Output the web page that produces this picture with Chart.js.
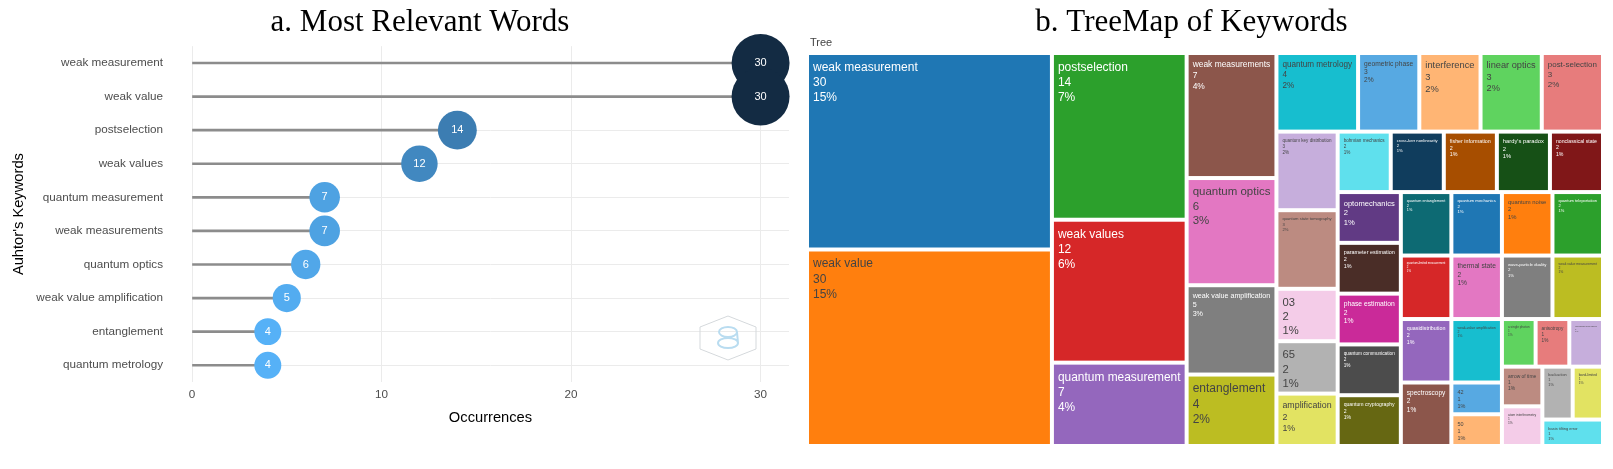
<!DOCTYPE html>
<html>
<head>
<meta charset="utf-8">
<script src="https://cdn.jsdelivr.net/npm/chart.js@4.4.1/dist/chart.umd.min.js"></script>
<style>
  html, body { margin: 0; padding: 0; background: #fff; }
  body { width: 1613px; height: 469px; position: relative; overflow: hidden; }
  #wordsBox { position: absolute; left: 0; top: 0; width: 840px; height: 469px; }
  #treeBox { position: absolute; left: 780px; top: 0; width: 833px; height: 469px; }
</style>
</head>
<body>
<div id="wordsBox"><canvas id="wordsChart"></canvas></div>
<div id="treeBox"><canvas id="treeChart"></canvas></div>
<script>
// a. most relevant words (lollipop)
var keywords = ["weak measurement", "weak value", "postselection", "weak values", "quantum measurement",
    "weak measurements", "quantum optics", "weak value amplification", "entanglement", "quantum metrology"];
var occurrences = [30, 30, 14, 12, 7, 7, 6, 5, 4, 4];
var xTicks = [0, 10, 20, 30];

// b. treemap of keywords
var treeLabels = ["weak measurement", "weak value", "postselection", "weak values", "quantum measurement",
    "weak measurements", "quantum optics", "weak value amplification", "entanglement", "quantum metrology",
    "geometric phase", "interference", "linear optics", "post-selection", "quantum key distribution",
    "quantum state tomography", "03", "65", "amplification", "bohmian mechanics",
    "cross-kerr nonlinearity", "fisher information", "hardy's paradox", "nonclassical state", "optomechanics",
    "parameter estimation", "phase estimation", "quantum communication", "quantum cryptography", "quantum entanglement",
    "quantum mechanics", "quantum noise", "quantum teleportation", "quantum-limited measurement", "quasidistribution",
    "spectroscopy", "thermal state", "wave-particle duality", "weak value measurement", "weak-value amplification",
    "42", "50", "a single photon", "anisotropy", "anomalous weak values",
    "arrow of time", "atom interferometry", "backaction", "band-limited", "basis tilting error"];
var treeValues = [30, 30, 14, 12, 7, 7, 6, 5, 4, 4,
    3, 3, 3, 3, 3, 3, 2, 2, 2, 2,
    2, 2, 2, 2, 2, 2, 2, 2, 2, 2,
    2, 2, 2, 2, 2, 2, 2, 2, 2, 2,
    1, 1, 1, 1, 1, 1, 1, 1, 1, 1];

// plotly style colorway: base, lighter, darker
var palette = ["#1f77b4", "#ff7f0e", "#2ca02c", "#d62728", "#9467bd", "#8c564b", "#e377c2", "#7f7f7f", "#bcbd22", "#17becf",
    "#57a9e2", "#ffb574", "#5fd35f", "#e77c7c", "#c6aedc", "#bc8b81", "#f4cce8", "#b2b2b2", "#e2e362", "#5fe0ed",
    "#103d5d", "#a74e00", "#165016", "#801718", "#613a84", "#4a2d27", "#ca2a99", "#4c4c4c", "#666712", "#0d6a73"];

Chart.defaults.font.family = '"Liberation Sans", Arial, sans-serif';
var titleFont = { family: '"Liberation Serif", "Times New Roman", serif', size: 31, weight: 'normal' };

function bubbleRadius(v) {
    return 11.1 + 0.596 * v;
}

function bubbleColor(v) {
    var lo = [86, 177, 247], hi = [19, 43, 67];
    var t = (v - 4) / 26;
    var c = lo.map(function (a, i) { return Math.round(a + (hi[i] - a) * t); });
    return 'rgb(' + c.join(',') + ')';
}

var bubbleLabels = {
    id: 'bubbleLabels',
    afterDatasetsDraw: function (chart) {
        var ctx = chart.ctx;
        var meta = chart.getDatasetMeta(0);
        ctx.save();
        ctx.font = '11px "Liberation Sans", Arial, sans-serif';
        ctx.fillStyle = '#ffffff';
        ctx.textAlign = 'center';
        ctx.textBaseline = 'middle';
        meta.data.forEach(function (pt, i) {
            ctx.fillText(String(occurrences[i]), pt.x, pt.y);
        });
        ctx.restore();
    }
};

// faint logo hexagon in the corner of the panel
var watermark = {
    id: 'watermark',
    afterDraw: function (chart) {
        var a = chart.chartArea;
        var cx = a.right - 61, cy = a.bottom - 44;
        var ctx = chart.ctx;
        ctx.save();
        ctx.strokeStyle = '#d5d9dc';
        ctx.lineWidth = 1;
        ctx.beginPath();
        ctx.moveTo(cx, cy - 22);
        ctx.lineTo(cx + 28, cy - 11);
        ctx.lineTo(cx + 28, cy + 11);
        ctx.lineTo(cx, cy + 22);
        ctx.lineTo(cx - 28, cy + 11);
        ctx.lineTo(cx - 28, cy - 11);
        ctx.closePath();
        ctx.stroke();
        ctx.strokeStyle = '#b9dcf0';
        ctx.lineWidth = 2;
        ctx.beginPath();
        ctx.ellipse(cx, cy - 6, 9, 5, 0, 0, Math.PI * 2);
        ctx.ellipse(cx, cy + 5, 10, 5, 0, 0, Math.PI * 2);
        ctx.stroke();
        ctx.restore();
    }
};

new Chart("wordsChart", {
    type: "bar",
    data: {
        labels: keywords,
        datasets: [{
            type: 'scatter',
            data: keywords.map(function (k, i) { return { x: occurrences[i], y: k }; }),
            pointRadius: function (c) { return bubbleRadius(c.raw.x); },
            pointHoverRadius: function (c) { return bubbleRadius(c.raw.x); },
            backgroundColor: function (c) { return bubbleColor(c.raw.x); },
            borderWidth: 0,
            clip: false
        }, {
            type: 'bar',
            indexAxis: 'y',
            data: occurrences,
            backgroundColor: '#8c8c8c',
            barThickness: 2
        }]
    },
    options: {
        responsive: true,
        maintainAspectRatio: false,
        animation: false,
        layout: { padding: 0 },
        plugins: {
            legend: { display: false },
            tooltip: { enabled: false },
            title: {
                display: true,
                text: "a. Most Relevant Words",
                color: '#000',
                font: titleFont,
                padding: { top: 4, bottom: 5 }
            }
        },
        scales: {
            x: {
                type: 'linear',
                min: 0,
                max: 31.5,
                offset: false,
                afterBuildTicks: function (s) { s.ticks = xTicks.map(function (v) { return { value: v }; }); },
                afterFit: function (s) { s.height = 87; },
                grid: { color: '#ebebeb', drawTicks: false, offset: false },
                border: { display: false },
                ticks: { color: '#4d4d4d', font: { size: 11.7 }, padding: 6 },
                title: {
                    display: true,
                    text: 'Occurrences',
                    color: '#000',
                    font: { size: 14.7 },
                    padding: { top: 4, bottom: 42 }
                }
            },
            y: {
                type: 'category',
                labels: keywords,
                offset: true,
                afterFit: function (s) { s.width = 192; },
                grid: { color: '#ebebeb', drawTicks: false, offset: false },
                border: { display: false },
                ticks: { color: '#4d4d4d', font: { size: 11.7 }, padding: 29 },
                title: {
                    display: true,
                    text: "Auhtor's Keywords",
                    color: '#000',
                    font: { size: 14.7 },
                    padding: { top: 10.5, bottom: 0 }
                }
            },
            yRight: {
                type: 'linear',
                position: 'right',
                min: 0,
                max: 1,
                afterFit: function (s) { s.width = 51; },
                ticks: { display: false },
                grid: { display: false },
                border: { display: false }
            }
        }
    },
    plugins: [bubbleLabels, watermark]
});

// squarified layout (ratio 1), rows stacked along the shorter side
function squarify(values, x0, y0, x1, y1) {
    var rects = [];
    var remaining = values.reduce(function (a, b) { return a + b; }, 0);
    var i0 = 0, n = values.length;
    while (i0 < n) {
        var dx = x1 - x0, dy = y1 - y0;
        var i1 = i0;
        var sumValue = values[i1++];
        var minV = sumValue, maxV = sumValue;
        var alpha = Math.max(dy / dx, dx / dy) / remaining;
        var beta = sumValue * sumValue * alpha;
        var minRatio = Math.max(maxV / beta, beta / minV);
        for (; i1 < n; i1++) {
            var v = values[i1];
            sumValue += v;
            if (v < minV) minV = v;
            if (v > maxV) maxV = v;
            beta = sumValue * sumValue * alpha;
            var newRatio = Math.max(maxV / beta, beta / minV);
            if (newRatio > minRatio) { sumValue -= v; break; }
            minRatio = newRatio;
        }
        var k;
        if (dx < dy) {
            var yb = y0 + dy * sumValue / remaining, x = x0;
            for (k = i0; k < i1; k++) {
                var w = dx * values[k] / sumValue;
                rects[k] = { x0: x, y0: y0, x1: x + w, y1: yb };
                x += w;
            }
            y0 = yb;
        } else {
            var xb = x0 + dx * sumValue / remaining, y = y0;
            for (k = i0; k < i1; k++) {
                var h = dy * values[k] / sumValue;
                rects[k] = { x0: x0, y0: y, x1: xb, y1: y + h };
                y += h;
            }
            x0 = xb;
        }
        remaining -= sumValue;
        i0 = i1;
    }
    return rects;
}

function isLight(hex) {
    var r = parseInt(hex.substr(1, 2), 16), g = parseInt(hex.substr(3, 2), 16), b = parseInt(hex.substr(5, 2), 16);
    return (r * 299 + g * 587 + b * 114) / 1000 >= 128;
}

var treemapCells = {
    id: 'treemapCells',
    afterDatasetsDraw: function (chart) {
        var a = chart.chartArea;
        var xs = chart.scales.x, ys = chart.scales.y;
        var ctx = chart.ctx;
        var ar = a.width / a.height;
        var total = treeValues.reduce(function (p, q) { return p + q; }, 0);
        var rects = squarify(treeValues, 0, 0, ar, 1);
        var gap = 2, base = 12;
        ctx.save();
        ctx.font = '11px "Liberation Sans", Arial, sans-serif';
        ctx.fillStyle = '#444';
        ctx.textBaseline = 'middle';
        ctx.fillText('Tree', a.left + 3, a.top - 10);
        rects.forEach(function (r, i) {
            var px0 = xs.getPixelForValue(r.x0 / ar) + gap;
            var px1 = xs.getPixelForValue(r.x1 / ar) - gap;
            var py0 = ys.getPixelForValue(r.y0) + gap;
            var py1 = ys.getPixelForValue(r.y1) - gap;
            var col = palette[i % palette.length];
            ctx.fillStyle = col;
            ctx.fillRect(px0, py0, px1 - px0, py1 - py0);

            var lines = [treeLabels[i], String(treeValues[i]), Math.round(treeValues[i] / total * 100) + '%'];
            ctx.font = base + 'px "Liberation Sans", Arial, sans-serif';
            var maxW = Math.max.apply(null, lines.map(function (t) { return ctx.measureText(t).width; }));
            var s = Math.min(1, (px1 - px0 - 8) / maxW, (py1 - py0 - 8) / (base * 3.6));
            var fs = base * s;
            ctx.font = fs + 'px "Liberation Sans", Arial, sans-serif';
            ctx.fillStyle = isLight(col) ? '#444' : '#fff';
            ctx.textAlign = 'left';
            lines.forEach(function (t, j) {
                ctx.fillText(t, px0 + 4, py0 + 4 + fs * 0.72 + j * fs * 1.26);
            });
        });
        ctx.restore();
    }
};

new Chart("treeChart", {
    type: "scatter",
    data: { datasets: [] },
    options: {
        responsive: true,
        maintainAspectRatio: false,
        animation: false,
        layout: { padding: { left: 0, right: 10, top: 0, bottom: 23 } },
        plugins: {
            legend: { display: false },
            tooltip: { enabled: false },
            title: {
                display: true,
                text: "b. TreeMap of Keywords",
                color: '#000',
                font: titleFont,
                padding: { top: 4, bottom: 11.8 }
            }
        },
        scales: {
            x: { type: 'linear', min: 0, max: 1, display: false },
            y: {
                type: 'linear',
                min: 0,
                max: 1,
                reverse: true,
                afterFit: function (s) { s.width = 27; },
                ticks: { display: false },
                grid: { display: false },
                border: { display: false }
            }
        }
    },
    plugins: [treemapCells]
});
</script>
</body>
</html>
